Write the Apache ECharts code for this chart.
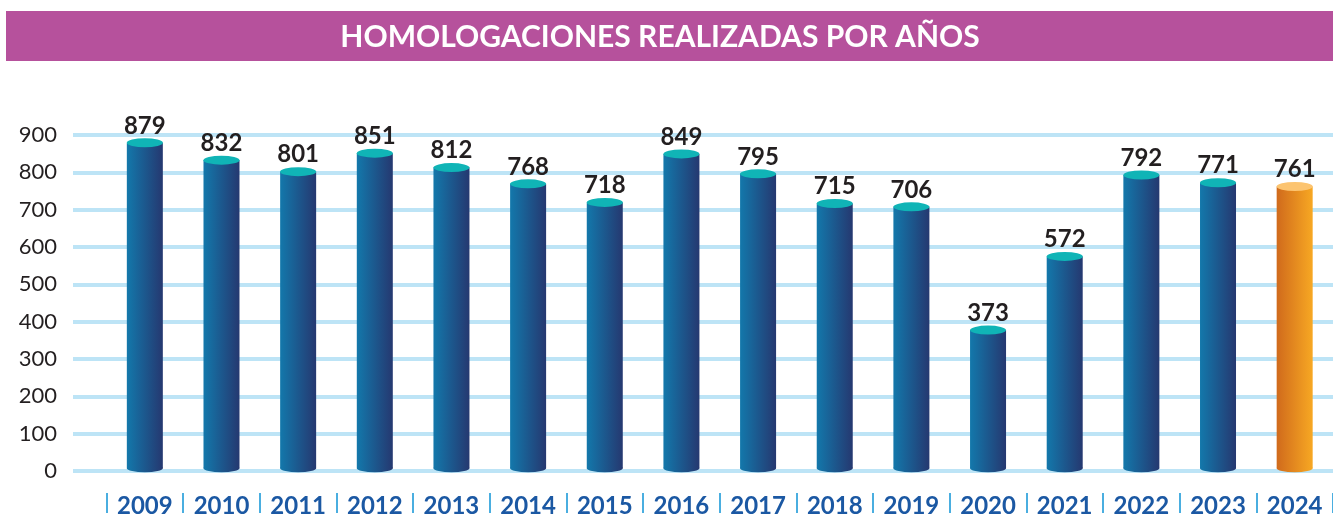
<!DOCTYPE html>
<html><head><meta charset="utf-8">
<script src="https://cdn.jsdelivr.net/npm/echarts@6/dist/echarts.min.js"></script>
<style>html,body{margin:0;padding:0;background:#fff}#c{width:1333px;height:518px}</style>
</head><body><div id="c"></div>
<script>
const titleText = 'HOMOLOGACIONES REALIZADAS POR AÑOS';
const years = ['2009','2010','2011','2012','2013','2014','2015','2016','2017','2018','2019','2020','2021','2022','2023','2024'];
const values = [879,832,801,851,812,768,718,849,795,715,706,373,572,792,771,761];
const highlightYear = '2024';
const yTicks = {min:0, max:900, interval:100};

const FONT = 'Lato';
const blueGrad = {type:'linear',x:0,y:0,x2:1,y2:0,colorStops:[{offset:0,color:'#1378ab'},{offset:1,color:'#253870'}]};
const orangeGrad = {type:'linear',x:0,y:0,x2:1,y2:0,colorStops:[{offset:0,color:'#d06a1c'},{offset:1,color:'#f7a823'}]};
const isHi = i => years[i] === highlightYear;

const barData = values.map((v,i)=>({value:v, itemStyle:{color: isHi(i)?orangeGrad:blueGrad}}));
const topData = values.map((v,i)=>({value:v, itemStyle:{color: isHi(i)?'#fcc470':'#10b4b6'}}));
const botData = values.map((v,i)=>({value:v, itemStyle:{color: isHi(i)?orangeGrad:blueGrad}}));

// plot geometry: 0 at y=471, 900 at y=135; category labels sit 25px below the zero line
const TOP = 135, BOTTOM = 47, LABEL_DROP = 25;
const pxPerUnit = (518 - TOP - BOTTOM) / (yTicks.max - yTicks.min);
const lowerMin = yTicks.min - LABEL_DROP / pxPerUnit;

const chart = echarts.init(document.getElementById('c'), null, {renderer:'canvas'});
const BW = 36;
chart.setOption({
  animation:false,
  graphic:[
    {type:'rect', shape:{x:6,y:11,width:1327,height:50}, style:{fill:'#b6519c'}, z:0},
    {type:'text', x:660, y:37, style:{text:titleText, fill:'#ffffff', font:'bold 30px '+FONT, textAlign:'center', textVerticalAlign:'middle'}, z:1}
  ],
  grid:[
    {left:73, right:0, top:TOP, bottom:BOTTOM},
    {left:106.5, right:-5.5, top:TOP, bottom:BOTTOM - LABEL_DROP}
  ],
  xAxis:[
    {type:'category', gridIndex:0, data:years, show:false},
    {type:'category', gridIndex:1, data:years,
     axisLine:{show:false, onZero:false},
     axisTick:{show:true, length:20, lineStyle:{color:'#4aaee0', width:2}},
     axisLabel:{margin:1, color:'#1b58a3', fontFamily:FONT, fontWeight:'bold', fontSize:24, lineHeight:24, verticalAlign:'top'}}
  ],
  yAxis:[
    {type:'value', gridIndex:0, min:yTicks.min, max:yTicks.max, interval:yTicks.interval,
     axisLine:{show:false}, axisTick:{show:false},
     axisLabel:{margin:16, color:'#231f20', fontFamily:FONT, fontSize:22},
     splitLine:{show:true, lineStyle:{color:'#bde4f6', width:4}}},
    {type:'value', gridIndex:1, min:lowerMin, max:yTicks.max, show:false, splitLine:{show:false}}
  ],
  series:[
    {type:'bar', xAxisIndex:1, yAxisIndex:1, data:barData, barWidth:BW, z:3,
     label:{show:true, position:'top', distance:5, color:'#231f20', fontFamily:FONT, fontWeight:'bold', fontSize:24}},
    {type:'pictorialBar', xAxisIndex:1, yAxisIndex:1, data:botData, symbol:'circle', symbolSize:[BW,8], symbolPosition:'start', symbolOffset:[0,'50%'], z:2},
    {type:'pictorialBar', xAxisIndex:1, yAxisIndex:1, data:topData, symbol:'circle', symbolSize:[BW,9], symbolPosition:'end', symbolOffset:[0,'-50%'], z:4}
  ]
});
</script></body></html>
